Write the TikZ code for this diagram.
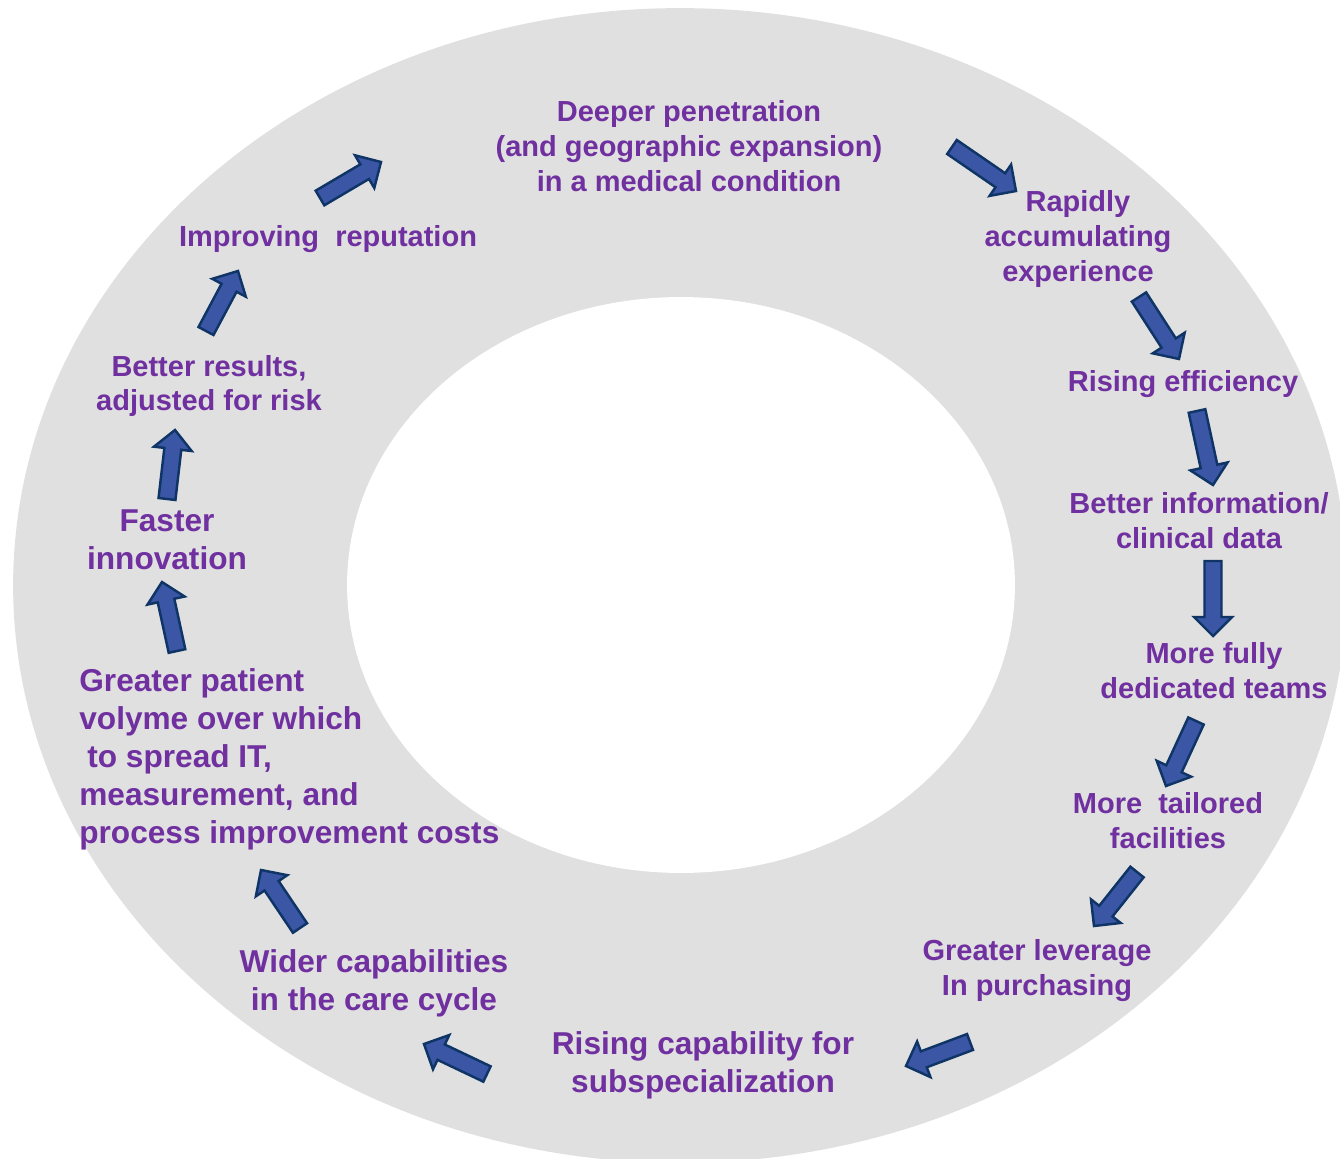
\documentclass[tikz,border=0pt]{standalone}
\usepackage{fontspec}
\setmainfont{Liberation Sans}
\usetikzlibrary{calc}
\definecolor{ringgray}{HTML}{E0E0E0}
\definecolor{stagepurple}{HTML}{7030A0}
\definecolor{arrowblue}{HTML}{3A56A4}
\definecolor{arrowedge}{HTML}{0F3466}

% block arrow from #1 (tail) to #2 (tip)
\newcommand\flowarrow[2]{%
  \coordinate (hb) at ($(#2)!0.38cm!(#1)$);
  \filldraw [flow] ($(#1)!0.17cm!90:(#2)$) -- ($(hb)!0.17cm!90:(#2)$)
      -- ($(hb)!0.38cm!90:(#2)$) -- (#2) -- ($(hb)!0.38cm!-90:(#2)$)
      -- ($(hb)!0.17cm!-90:(#2)$) -- ($(#1)!0.17cm!-90:(#2)$) -- cycle;}

\begin{document}
\begin{tikzpicture} [x=0.02cm, y=-0.02cm,
stage/.style={text=stagepurple, align=center, inner sep=0pt,
              font=\fontsize{16.5}{19.9}\selectfont\bfseries},
bigstage/.style={stage, font=\fontsize{18}{21.6}\selectfont\bfseries},
flow/.style={fill=arrowblue, draw=arrowedge, line width=1.4pt},
]
    \clip (0,0) rectangle (1340,1159);
    \fill [ringgray] (680,585.5) ellipse [x radius=13.34cm, y radius=11.55cm];
    \fill [white] (681,585) ellipse [x radius=6.68cm, y radius=5.76cm];

    \node [stage] (deeper) at (689,146)
        {Deeper penetration\\(and geographic expansion)\\in a medical condition};
    \node [stage] (experience) at (1078,239) {Rapidly\\accumulating\\experience};
    \node [stage] (efficiency) at (1183,384) {Rising efficiency};
    \node [stage] (information) at (1199,521) {Better information/\\clinical data};
    \node [stage] (teams) at (1214,671) {More fully\\dedicated teams};
    \node [stage] (facilities) at (1168,821) {More\ \ tailored\\facilities};
    \node [stage] (leverage) at (1037,971) {Greater leverage\\In purchasing};
    \node [bigstage] (subspecialization) at (703,1065)
        {Rising capability for\\subspecialization};
    \node [bigstage] (cycle) at (374,983) {Wider capabilities\\in the care cycle};
    \node [bigstage, align=left, anchor=west] (volume) at (79,759)
        {Greater patient\\volyme over which\\\hspace*{0.16cm}to spread IT,\\
         measurement, and\\process improvement costs};
    \node [bigstage] (innovation) at (167,540) {Faster\\innovation};
    \node [stage] (results) at (209,386) {Better results,\\adjusted for risk};
    \node [stage] (reputation) at (328,239) {Improving\ \ reputation};

    \coordinate (tail1) at (320,198);    \coordinate (tip1) at (381,162);
    \coordinate (tail2) at (952,147);    \coordinate (tip2) at (1016,191);
    \coordinate (tail3) at (1139,297);   \coordinate (tip3) at (1179,359);
    \coordinate (tail4) at (1197,411);   \coordinate (tip4) at (1213,485);
    \coordinate (tail5) at (1213,561);   \coordinate (tip5) at (1213,636);
    \coordinate (tail6) at (1196,721);   \coordinate (tip6) at (1166,786);
    \coordinate (tail7) at (1137,872);   \coordinate (tip7) at (1094,926);
    \coordinate (tail8) at (970,1042);   \coordinate (tip8) at (906,1066);
    \coordinate (tail9) at (487,1074);   \coordinate (tip9) at (424,1044);
    \coordinate (tail10) at (300,928);   \coordinate (tip10) at (261,870);
    \coordinate (tail11) at (177,651);   \coordinate (tip11) at (162,582);
    \coordinate (tail12) at (167,499);   \coordinate (tip12) at (175,430);
    \coordinate (tail13) at (206,331);   \coordinate (tip13) at (238,271);
    \foreach \n in {1,...,13}
        \flowarrow{tail\n}{tip\n};
\end{tikzpicture}
\end{document}
